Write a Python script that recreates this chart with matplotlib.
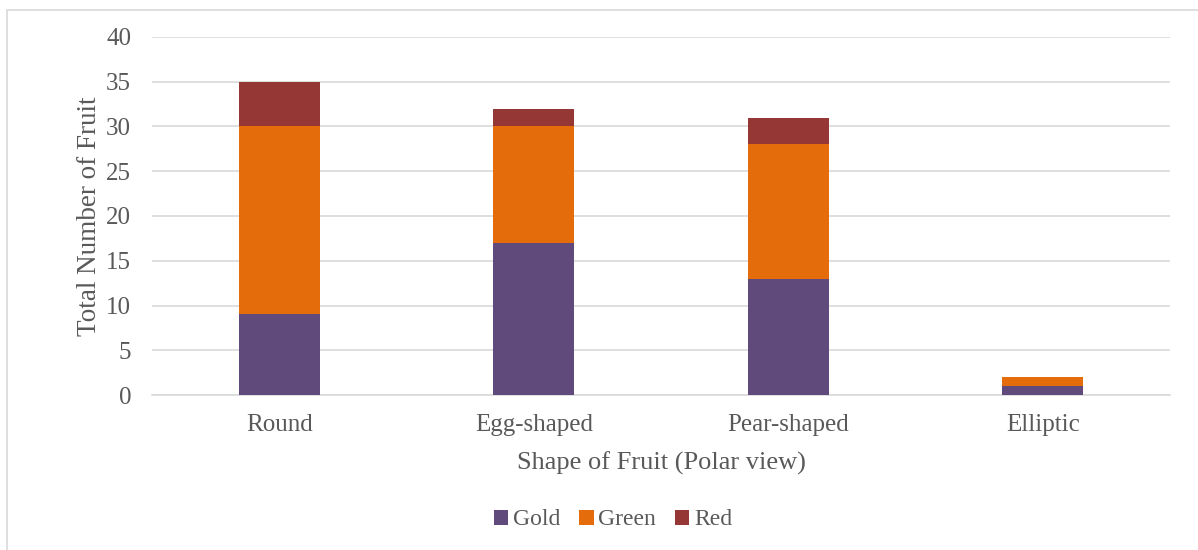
import numpy as np
import matplotlib
matplotlib.use("Agg")
import matplotlib.pyplot as plt
from matplotlib.patches import Rectangle

shapes = ["Round", "Egg-shaped", "Pear-shaped", "Elliptic"]
gold = [9, 17, 13, 1]
green = [21, 13, 15, 1]
red = [5, 2, 3, 0]

C_GOLD, C_GREEN, C_RED = "#604a7b", "#e46c0a", "#953735"
TXT = "#595959"

plt.rcParams["font.family"] = ["Liberation Serif", "DejaVu Serif"]

fig = plt.figure(figsize=(11.98, 5.5), dpi=100)
# chart frame (only top/left edges fall inside the canvas)
fig.patches.append(Rectangle((7 / 1198, -0.1), 1.2, 1 - 10 / 550 + 0.1,
                             transform=fig.transFigure, fill=False,
                             edgecolor="#d9d9d9", lw=1.2))

ax = fig.add_axes([152 / 1198, 1 - 395 / 550, 1018 / 1198, 358 / 550])
x = np.arange(len(shapes))
w = 0.32
g = np.array(gold); gr = np.array(green); r = np.array(red)
ax.bar(x, g, w, color=C_GOLD, label="Gold", zorder=3)
ax.bar(x, gr, w, bottom=g, color=C_GREEN, label="Green", zorder=3)
ax.bar(x, r, w, bottom=g + gr, color=C_RED, label="Red", zorder=3)

ax.set_xlim(-0.5, len(shapes) - 0.5)
ax.set_ylim(0, 40)
ax.set_yticks(range(0, 41, 5))
ax.set_xticks(x)
ax.set_xticklabels(shapes)
ax.grid(axis="y", color="#d9d9d9", lw=1.2, zorder=0)
for s in ["top", "right", "left"]:
    ax.spines[s].set_visible(False)
ax.spines["bottom"].set_color("#d9d9d9")
ax.spines["bottom"].set_linewidth(1.2)
ax.tick_params(length=0, labelsize=18, colors=TXT)
ax.tick_params(axis="y", pad=15)
ax.tick_params(axis="x", pad=14)

ax.set_ylabel("Total Number of Fruit", fontsize=19.5, color=TXT, labelpad=3)
ax.set_xlabel("Shape of Fruit (Polar view)", fontsize=19, color=TXT, labelpad=11)

ax.legend(loc="center", bbox_to_anchor=(0.453, -0.349), ncol=3, frameon=False,
          fontsize=17, labelcolor=TXT, handlelength=0.6, handleheight=0.6,
          handletextpad=0.2, columnspacing=0.8)

fig.savefig("out.png", dpi=100)
